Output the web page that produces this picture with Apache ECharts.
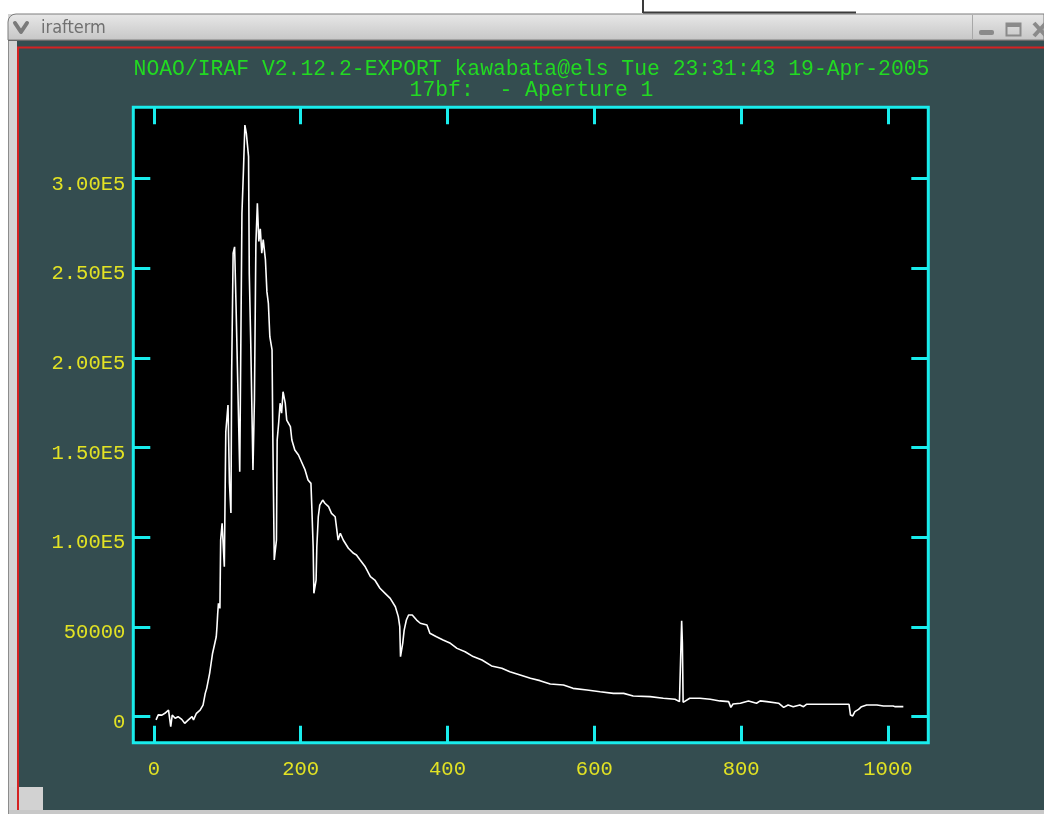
<!DOCTYPE html>
<html>
<head>
<meta charset="utf-8">
<title>irafterm</title>
<script src="https://cdn.jsdelivr.net/npm/echarts@6/dist/echarts.min.js"></script>
<style>
  html, body { margin: 0; padding: 0; background: #ffffff; }
  #main { width: 1044px; height: 814px; }
</style>
</head>
<body>
<div id="main"></div>
<script>
// Extracted spectrum, aperture 1: pixel number and counts
const pixelIdx = [3, 6, 11, 15, 20, 23, 25, 29, 33, 38, 42, 47, 52, 54, 58, 63, 67, 70, 72, 76, 78, 80, 82, 85, 86, 87, 88, 90, 91, 93, 96, 98, 101, 103, 105, 106, 108, 110, 112, 114, 117, 120, 122, 124, 126, 129, 130, 132, 135, 137, 139, 141, 143, 145, 147, 149, 152, 154, 156, 158, 161, 162, 164, 167, 168, 170, 172, 174, 176, 179, 181, 186, 188, 192, 197, 202, 206, 210, 214, 215, 217, 218, 221, 222, 224, 226, 230, 233, 238, 242, 247, 251, 254, 258, 265, 272, 276, 281, 288, 295, 301, 308, 315, 322, 329, 333, 335, 336, 339, 341, 344, 347, 352, 358, 363, 372, 376, 385, 394, 404, 413, 424, 435, 447, 460, 474, 485, 499, 513, 526, 540, 558, 571, 590, 608, 626, 640, 653, 676, 694, 710, 716, 718, 719, 720, 721, 722, 730, 744, 758, 771, 783, 786, 789, 799, 810, 821, 826, 835, 851, 858, 864, 871, 880, 885, 889, 912, 935, 947, 949, 952, 955, 960, 964, 971, 985, 994, 1007, 1010, 1021];
const counts = [-1800, 1000, 900, 1900, 3700, -5600, 900, -900, 0, -1500, -3700, -1800, 0, -1800, 1900, 3700, 6500, 13000, 15800, 24200, 29800, 35400, 39000, 44600, 50200, 57700, 63200, 60400, 98500, 107800, 83600, 158900, 173800, 130000, 113600, 192400, 258400, 262000, 228600, 191500, 136600, 280700, 303900, 329900, 325300, 312300, 247200, 208200, 137600, 176600, 264000, 286300, 265000, 272000, 258400, 266000, 254700, 237000, 230500, 211900, 204500, 158900, 87400, 98500, 154300, 163600, 174800, 169200, 181200, 174800, 165400, 161700, 154300, 148700, 145900, 141300, 137600, 132000, 130100, 119000, 94800, 68800, 76200, 94800, 111500, 118000, 120800, 119000, 117100, 113400, 111500, 98500, 102300, 98500, 93900, 91100, 90200, 87400, 83600, 78100, 76200, 71600, 68800, 66000, 61300, 55800, 50200, 33500, 40900, 48300, 53900, 56700, 56700, 53900, 52100, 51100, 46500, 44600, 42800, 40900, 38100, 36200, 33500, 31600, 28300, 27000, 25100, 23300, 21400, 20100, 18200, 17700, 15800, 14900, 13900, 13000, 13000, 11500, 11200, 10300, 9700, 8400, 8400, 53500, 41000, 8000, 8400, 10300, 10300, 9700, 8800, 8400, 5200, 7100, 7500, 8800, 7500, 8800, 8400, 7500, 5200, 6500, 5600, 6500, 5600, 6900, 6900, 6900, 6900, 900, 400, 2800, 4100, 5600, 6500, 6500, 6000, 6000, 5600, 5600];

// Axis ticks and their printed labels
const xTicks = [0, 200, 400, 600, 800, 1000];
const xTickLabels = ['0', '200', '400', '600', '800', '1000'];
const yTicks = [0, 50000, 100000, 150000, 200000, 250000, 300000];
const yTickLabels = ['0', '50000', '1.00E5', '1.50E5', '2.00E5', '2.50E5', '3.00E5'];

// Plot header and window title
const plotTitle = 'NOAO/IRAF V2.12.2-EXPORT kawabata@els Tue 23:31:43 19-Apr-2005';
const plotSubtitle = '17bf:  - Aperture 1';
const windowTitle = 'irafterm';

const SLATE = '#344d50';
const CYAN = '#19ecec';
const YELLOW = '#e2e224';
const GREEN = '#22da22';
const MONO = '"Liberation Mono", "DejaVu Sans Mono", monospace';

const seriesData = pixelIdx.map((p, i) => [p, counts[i]]);

function tickLabel(ticks, labels) {
  return v => {
    const i = ticks.indexOf(v);
    return i >= 0 ? labels[i] : '';
  };
}

const chart = echarts.init(document.getElementById('main'), null, { renderer: 'canvas' });

// inward ticks on all four sides of the frame
const tickStyle = { inside: true, length: 17, lineStyle: { color: CYAN, width: 3 } };
const hiddenLine = { show: false, onZero: false };

chart.setOption({
  animation: false,
  backgroundColor: '#ffffff',
  graphic: {
    elements: [
      // terminal window body
      { type: 'rect', z: -10, shape: { x: 8, y: 14, width: 1036, height: 800 }, style: { fill: '#d4d4d4' } },
      { type: 'line', z: -9, shape: { x1: 8.5, y1: 20, x2: 8.5, y2: 814 }, style: { stroke: '#8c8c8c', lineWidth: 1 } },
      { type: 'rect', z: -9, shape: { x: 17, y: 40, width: 1027, height: 770 }, style: { fill: SLATE } },
      { type: 'rect', z: -9, shape: { x: 9, y: 787, width: 34, height: 24 }, style: { fill: '#d2d2d2' } },
      { type: 'rect', z: -9, shape: { x: 9, y: 810, width: 1035, height: 4 }, style: { fill: '#c8c8c8' } },
      // title bar
      { type: 'rect', z: -8, shape: { x: 8, y: 14, width: 1036, height: 26, r: [8, 0, 0, 0] },
        style: { fill: new echarts.graphic.LinearGradient(0, 0, 0, 1, [
          { offset: 0, color: '#e8e8e8' }, { offset: 1, color: '#c6c6c6' }]), stroke: '#7c7c7c', lineWidth: 1 } },
      { type: 'line', z: -7, shape: { x1: 8, y1: 40.5, x2: 1044, y2: 40.5 }, style: { stroke: '#6a6a6a', lineWidth: 1 } },
      { type: 'line', z: -7, shape: { x1: 972.5, y1: 15, x2: 972.5, y2: 40 }, style: { stroke: '#a8a8a8', lineWidth: 1 } },
      // neighbouring window edge above
      { type: 'line', z: -7, shape: { x1: 643, y1: 0, x2: 643, y2: 13 }, style: { stroke: '#3a3a3a', lineWidth: 2 } },
      { type: 'line', z: -7, shape: { x1: 643, y1: 12.5, x2: 856, y2: 12.5 }, style: { stroke: '#3a3a3a', lineWidth: 2 } },
      // window menu chevron
      { type: 'polyline', z: -6, shape: { points: [[15, 23], [21, 32], [27, 23]] },
        style: { stroke: '#7a7a7a', lineWidth: 4, fill: null, lineJoin: 'round', lineCap: 'round' } },
      { type: 'text', z: -6, style: { text: windowTitle, x: 41, y: 28, fill: '#707070',
        font: '18px "DejaVu Sans Condensed", "DejaVu Sans", sans-serif', align: 'left', verticalAlign: 'middle' } },
      // minimise / maximise / close buttons
      { type: 'rect', z: -6, shape: { x: 979, y: 30, width: 15, height: 5, r: 2 }, style: { fill: '#8a8a8a' } },
      { type: 'rect', z: -6, shape: { x: 1006.5, y: 23.5, width: 14, height: 12 }, style: { fill: null, stroke: '#8a8a8a', lineWidth: 2 } },
      { type: 'rect', z: -6, shape: { x: 1006, y: 23, width: 15, height: 4 }, style: { fill: '#8a8a8a' } },
      { type: 'polyline', z: -6, shape: { points: [[1034, 23], [1046, 36]] }, style: { stroke: '#8a8a8a', lineWidth: 4 } },
      { type: 'polyline', z: -6, shape: { points: [[1034, 36], [1046, 23]] }, style: { stroke: '#8a8a8a', lineWidth: 4 } },
      // red focus border
      { type: 'line', z: -5, shape: { x1: 17, y1: 47.5, x2: 1044, y2: 47.5 }, style: { stroke: '#d42222', lineWidth: 2 } },
      { type: 'line', z: -5, shape: { x1: 18, y1: 47, x2: 18, y2: 810 }, style: { stroke: '#d42222', lineWidth: 2 } },
      // plot header
      { type: 'text', z: 5, style: { text: plotTitle, x: 531.5, y: 69, fill: GREEN, font: '21.4px ' + MONO,
        align: 'center', verticalAlign: 'middle' } },
      { type: 'text', z: 5, style: { text: plotSubtitle, x: 531.5, y: 90, fill: GREEN, font: '21.4px ' + MONO,
        align: 'center', verticalAlign: 'middle' } }
    ]
  },
  grid: {
    left: 133.3, top: 107.3, width: 795, height: 635.4,
    show: true, backgroundColor: '#000000', borderColor: CYAN, borderWidth: 3,
    containLabel: false
  },
  xAxis: [
    {
      type: 'value', position: 'bottom', min: -28, max: 1055,
      axisLine: hiddenLine, splitLine: { show: false },
      axisTick: Object.assign({ customValues: xTicks }, tickStyle),
      axisLabel: { customValues: xTicks, formatter: tickLabel(xTicks, xTickLabels),
        color: YELLOW, fontFamily: MONO, fontSize: 20.5, margin: 16 }
    },
    {
      type: 'value', position: 'top', min: -28, max: 1055,
      axisLine: hiddenLine, splitLine: { show: false },
      axisTick: Object.assign({ customValues: xTicks }, tickStyle),
      axisLabel: { show: false }
    }
  ],
  yAxis: [
    {
      type: 'value', position: 'left', min: -14500, max: 339800,
      axisLine: hiddenLine, splitLine: { show: false },
      axisTick: Object.assign({ customValues: yTicks }, tickStyle),
      axisLabel: { customValues: yTicks, formatter: tickLabel(yTicks, yTickLabels),
        color: YELLOW, fontFamily: MONO, fontSize: 20.5, margin: 8,
        verticalAlign: 'top', lineHeight: 11 }
    },
    {
      type: 'value', position: 'right', min: -14500, max: 339800,
      axisLine: hiddenLine, splitLine: { show: false },
      axisTick: Object.assign({ customValues: yTicks }, tickStyle),
      axisLabel: { show: false }
    }
  ],
  series: [
    {
      type: 'line', xAxisIndex: 0, yAxisIndex: 0,
      data: seriesData, showSymbol: false, symbol: 'none', smooth: false,
      lineStyle: { color: '#ffffff', width: 1.6 },
      clip: true, z: 3
    }
  ]
});
</script>
</body>
</html>
